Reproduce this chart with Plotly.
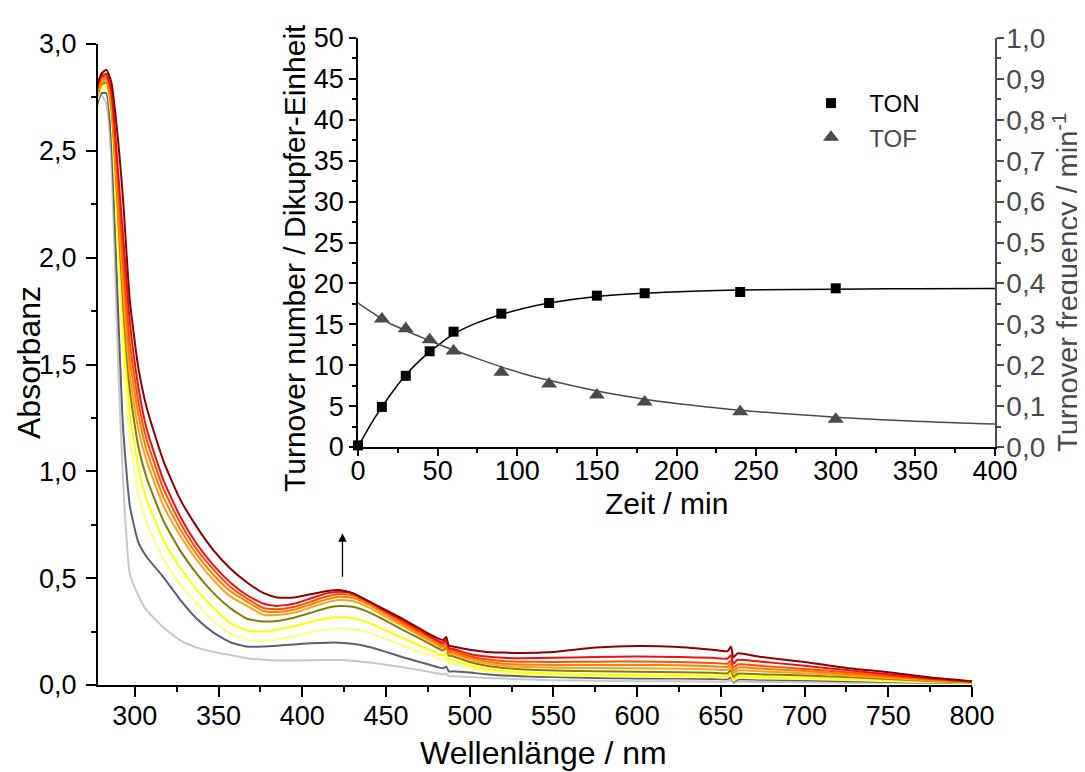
import plotly.graph_objects as go

# ---------------- main spectra data ----------------
wavelength = [277, 280, 283, 286, 290, 293, 297, 302, 307, 317, 327, 337, 347, 357, 367, 377, 385, 395,
              405, 415, 422, 430, 440, 450, 460, 470, 478, 484, 486, 487.5, 490, 500, 510, 520, 530, 550,
              575, 600, 625, 645, 654, 656, 657.5, 660, 673, 700, 725, 750, 775, 800]

abs_lightgray = [2.72, 2.76, 2.72, 2.45, 1.50, 0.95, 0.52, 0.42, 0.35, 0.27, 0.21, 0.175, 0.155, 0.14, 0.125, 0.118, 0.115, 0.115,
                 0.116, 0.117, 0.117, 0.114, 0.105, 0.095, 0.083, 0.07, 0.058, 0.05, 0.053, 0.041, 0.041, 0.037, 0.033, 0.03, 0.027, 0.022,
                 0.02, 0.018, 0.017, 0.016, 0.016, 0.022, 0.008, 0.015, 0.014, 0.013, 0.011, 0.01, 0.009, 0.008]
abs_darkgray = [2.70, 2.77, 2.77, 2.55, 1.75, 1.20, 0.84, 0.67, 0.60, 0.505, 0.40, 0.31, 0.245, 0.20, 0.18, 0.18, 0.184, 0.19,
                0.195, 0.198, 0.198, 0.193, 0.178, 0.155, 0.13, 0.108, 0.09, 0.078, 0.086, 0.064, 0.064, 0.058, 0.05, 0.045, 0.041, 0.037,
                0.033, 0.031, 0.03, 0.028, 0.028, 0.036, 0.016, 0.026, 0.025, 0.022, 0.018, 0.014, 0.011, 0.009]
abs_lightyellow = [2.72, 2.79, 2.80, 2.65, 2.00, 1.55, 1.15, 0.90, 0.76, 0.59, 0.47, 0.38, 0.30, 0.24, 0.21, 0.207, 0.213, 0.228,
                   0.246, 0.26, 0.265, 0.262, 0.244, 0.215, 0.185, 0.157, 0.135, 0.118, 0.128, 0.10, 0.098, 0.08, 0.065, 0.057, 0.051, 0.045,
                   0.041, 0.039, 0.037, 0.036, 0.035, 0.046, 0.02, 0.033, 0.031, 0.028, 0.023, 0.018, 0.013, 0.01]
abs_yellow = [2.73, 2.80, 2.81, 2.68, 2.10, 1.68, 1.28, 1.02, 0.87, 0.68, 0.55, 0.445, 0.36, 0.29, 0.255, 0.25, 0.26, 0.275,
              0.295, 0.312, 0.317, 0.313, 0.29, 0.255, 0.22, 0.185, 0.158, 0.138, 0.15, 0.118, 0.115, 0.092, 0.075, 0.066, 0.06, 0.053,
              0.049, 0.047, 0.045, 0.043, 0.042, 0.056, 0.025, 0.04, 0.038, 0.034, 0.028, 0.022, 0.016, 0.011]
abs_olive = [2.74, 2.81, 2.82, 2.70, 2.20, 1.78, 1.38, 1.12, 0.97, 0.77, 0.63, 0.52, 0.43, 0.36, 0.31, 0.297, 0.30, 0.315,
             0.338, 0.362, 0.37, 0.366, 0.34, 0.30, 0.258, 0.218, 0.185, 0.162, 0.176, 0.138, 0.135, 0.108, 0.09, 0.08, 0.074, 0.068,
             0.064, 0.062, 0.06, 0.057, 0.055, 0.07, 0.038, 0.053, 0.05, 0.045, 0.037, 0.028, 0.019, 0.012]
abs_lightorange = [2.75, 2.82, 2.83, 2.72, 2.25, 1.85, 1.45, 1.20, 1.05, 0.84, 0.70, 0.585, 0.49, 0.415, 0.37, 0.328, 0.328, 0.338,
                   0.363, 0.388, 0.398, 0.393, 0.362, 0.318, 0.275, 0.232, 0.198, 0.172, 0.187, 0.148, 0.145, 0.118, 0.10, 0.09, 0.085, 0.081,
                   0.079, 0.078, 0.076, 0.073, 0.071, 0.086, 0.052, 0.068, 0.064, 0.055, 0.045, 0.033, 0.022, 0.013]
abs_orange = [2.76, 2.83, 2.84, 2.74, 2.30, 1.92, 1.52, 1.27, 1.10, 0.88, 0.73, 0.61, 0.515, 0.44, 0.39, 0.345, 0.342, 0.352,
              0.377, 0.402, 0.413, 0.408, 0.375, 0.33, 0.285, 0.24, 0.205, 0.18, 0.195, 0.156, 0.153, 0.127, 0.11, 0.10, 0.096, 0.094,
              0.094, 0.094, 0.092, 0.088, 0.085, 0.10, 0.065, 0.082, 0.077, 0.065, 0.052, 0.038, 0.025, 0.014]
abs_redorange = [2.77, 2.84, 2.85, 2.76, 2.35, 2.00, 1.60, 1.33, 1.15, 0.92, 0.76, 0.635, 0.54, 0.46, 0.405, 0.36, 0.355, 0.365,
                 0.39, 0.415, 0.426, 0.42, 0.385, 0.34, 0.295, 0.25, 0.215, 0.19, 0.205, 0.165, 0.162, 0.135, 0.12, 0.112, 0.109, 0.108,
                 0.109, 0.11, 0.108, 0.103, 0.10, 0.115, 0.08, 0.096, 0.09, 0.075, 0.06, 0.043, 0.028, 0.015]
abs_red = [2.78, 2.85, 2.86, 2.78, 2.40, 2.10, 1.70, 1.40, 1.20, 0.96, 0.79, 0.66, 0.56, 0.48, 0.42, 0.38, 0.37, 0.38,
           0.405, 0.43, 0.437, 0.43, 0.39, 0.345, 0.302, 0.258, 0.222, 0.198, 0.213, 0.173, 0.17, 0.145, 0.133, 0.127, 0.125, 0.127,
           0.131, 0.133, 0.131, 0.127, 0.124, 0.14, 0.10, 0.118, 0.11, 0.09, 0.07, 0.05, 0.03, 0.016]
abs_darkred = [2.80, 2.86, 2.88, 2.82, 2.55, 2.27, 1.80, 1.49, 1.30, 1.05, 0.87, 0.74, 0.63, 0.545, 0.48, 0.43, 0.41, 0.41,
               0.425, 0.44, 0.445, 0.43, 0.39, 0.35, 0.31, 0.265, 0.23, 0.21, 0.225, 0.185, 0.18, 0.165, 0.155, 0.152, 0.15, 0.155,
               0.175, 0.183, 0.178, 0.165, 0.158, 0.18, 0.13, 0.148, 0.132, 0.108, 0.08, 0.06, 0.035, 0.018]

spectra = [abs_lightgray, abs_darkgray, abs_lightyellow, abs_yellow, abs_olive,
           abs_lightorange, abs_orange, abs_redorange, abs_red, abs_darkred]
spectra_colors = ["#c8c8c8", "#5e5e72", "#ffff80", "#ffff00", "#808000",
                  "#ffa020", "#ff8000", "#ff5000", "#ee1111", "#8b0000"]

# ---------------- inset data ----------------
time_pts = [0, 15, 30, 45, 60, 90, 120, 150, 180, 240, 300]
ton_pts = [0.2, 4.9, 8.7, 11.7, 14.1, 16.3, 17.6, 18.5, 18.8, 18.95, 19.4]
tof_time = [15, 30, 45, 60, 90, 120, 150, 180, 240, 300]
tof_pts = [0.313, 0.289, 0.262, 0.235, 0.183, 0.154, 0.127, 0.110, 0.086, 0.068]

fit_time = [0, 10, 20, 30, 40, 50, 60, 75, 90, 105, 120, 150, 180, 210, 240, 300, 350, 400]
ton_fit = [0, 3.4, 6.3, 8.8, 10.8, 12.4, 13.8, 15.2, 16.2, 17.0, 17.6, 18.4, 18.8, 19.05, 19.2, 19.3, 19.35, 19.38]
tof_fit = [0.352, 0.326, 0.302, 0.285, 0.268, 0.252, 0.237, 0.216, 0.196, 0.178, 0.163, 0.137, 0.117, 0.102, 0.09,
           0.073, 0.063, 0.056]

FONT = "Liberation Sans, Arial, sans-serif"
GRAY = "#4a4a4a"

fig = go.Figure()

for vals, col in zip(spectra, spectra_colors):
    fig.add_trace(go.Scatter(x=wavelength, y=vals, mode="lines",
                             line=dict(color=col, width=2, shape="spline", smoothing=0.5),
                             showlegend=False, xaxis="x", yaxis="y", hoverinfo="skip"))

fig.add_trace(go.Scatter(x=fit_time, y=ton_fit, mode="lines", line=dict(color="black", width=1.5, shape="spline"),
                         showlegend=False, xaxis="x2", yaxis="y2"))
fig.add_trace(go.Scatter(x=fit_time, y=tof_fit, mode="lines", line=dict(color=GRAY, width=1.5, shape="spline"),
                         showlegend=False, xaxis="x2", yaxis="y3"))
fig.add_trace(go.Scatter(x=time_pts, y=ton_pts, mode="markers", name="&nbsp;&nbsp;TON",
                         marker=dict(symbol="square", size=10, color="black"),
                         xaxis="x2", yaxis="y2", cliponaxis=False))
fig.add_trace(go.Scatter(x=tof_time, y=tof_pts, mode="markers",
                         name="&nbsp;&nbsp;<span style='color:#4a4a4a'>TOF</span>",
                         marker=dict(symbol="triangle-up", size=14, color=GRAY),
                         xaxis="x2", yaxis="y3", cliponaxis=False))

# page body has an 8 px margin; figure is sized so the plot lands at the reference pixels
OFF = 8
W, H = 1085 - OFF, 772 - OFF
L, R, T, B = 90, 90, 30, 87
PW, PH = W - L - R, H - T - B


def px(xpage):
    return (xpage - OFF - L) / PW


def py(ypage):
    return (H - B - (ypage - OFF)) / PH


main_axis = dict(showgrid=False, zeroline=False, showline=True, linecolor="black", linewidth=2,
                 ticks="outside", ticklen=10, tickwidth=2, tickcolor="black", automargin=False,
                 tickfont=dict(family=FONT, size=27, color="black"))
main_minor = dict(ticks="outside", ticklen=5, tickwidth=2, tickcolor="black")
inset_axis = dict(showgrid=False, zeroline=False, showline=True, linecolor="black", linewidth=1.5,
                  ticks="outside", ticklen=7, tickwidth=1.5, tickcolor="black", automargin=False,
                  tickfont=dict(family=FONT, size=27, color="black"))
inset_minor = dict(ticks="outside", ticklen=4, tickwidth=1.5, tickcolor="black")

fig.update_layout(
    width=W, height=H, margin=dict(l=L, r=R, t=T, b=B),
    paper_bgcolor="white", plot_bgcolor="white", separators=",.",
    font=dict(family=FONT, size=27, color="black"),
    xaxis=dict(domain=[0, px(972)], range=[278, 800], anchor="y", tick0=300, dtick=50,
               minor=dict(dtick=25, **main_minor), **main_axis),
    yaxis=dict(domain=[0, py(44)], range=[0, 3.0], anchor="x", tick0=0, dtick=0.5, tickformat=".1f",
               minor=dict(dtick=0.25, **main_minor), **main_axis),
    xaxis2=dict(domain=[px(358), 1], range=[0, 400], anchor="y2", tick0=0, dtick=50,
                minor=dict(dtick=25, **inset_minor), **inset_axis),
    yaxis2=dict(domain=[py(447), 1], range=[0, 50], anchor="x2", tick0=0, dtick=5,
                minor=dict(dtick=2.5, **inset_minor), **inset_axis),
    yaxis3=dict(overlaying="y2", side="right", anchor="x2", range=[0, 1.0], tick0=0, dtick=0.1, tickformat=".1f",
                showgrid=False, zeroline=False, showline=True, linecolor=GRAY, linewidth=1.5,
                ticks="outside", ticklen=7, tickwidth=1.5, tickcolor=GRAY, automargin=False,
                minor=dict(dtick=0.05, ticks="outside", ticklen=4, tickwidth=1.5, tickcolor=GRAY),
                tickfont=dict(family=FONT, size=28, color=GRAY)),
    legend=dict(x=px(806), y=py(81), xanchor="left", yanchor="top", bgcolor="rgba(0,0,0,0)",
                font=dict(family=FONT, size=24, color="black"), itemwidth=40, tracegroupgap=0),
    showlegend=True,
)

# pull tick labels closer / further where the reference sets them
try:
    fig.update_layout(yaxis_ticklabelstandoff=4)
    fig.update_layout(xaxis_ticklabelstandoff=-4)
    fig.update_layout(xaxis2_ticklabelstandoff=-8)
    fig.update_layout(yaxis3_ticklabelstandoff=-3)
except Exception:
    pass

annotations = [
    dict(text="Absorbanz", x=px(29), y=py(363), textangle=-90, font=dict(size=32)),
    dict(text="Wellenlänge / nm", x=px(543), y=py(753), font=dict(size=32)),
    dict(text="Zeit / min", x=px(666), y=py(503), font=dict(size=30)),
    dict(text="Turnover number / Dikupfer-Einheit", x=px(294), y=py(258), textangle=-90, font=dict(size=30)),
    dict(text="Turnover frequency / min<sup>-1</sup>", x=px(1066), y=py(283), textangle=-90,
         font=dict(size=29, color=GRAY)),
]
for a in annotations:
    a.update(xref="paper", yref="paper", showarrow=False, xanchor="center", yanchor="middle")
    a["font"].setdefault("color", "black")
    a["font"]["family"] = FONT
    fig.add_annotation(**a)

# arrow indicating increase
fig.add_annotation(x=424, y=0.71, ax=424, ay=0.50, xref="x", yref="y", axref="x", ayref="y",
                   showarrow=True, arrowhead=2, arrowsize=1.3, arrowwidth=1.3, arrowcolor="black", text="")

fig.write_html("out.html")
